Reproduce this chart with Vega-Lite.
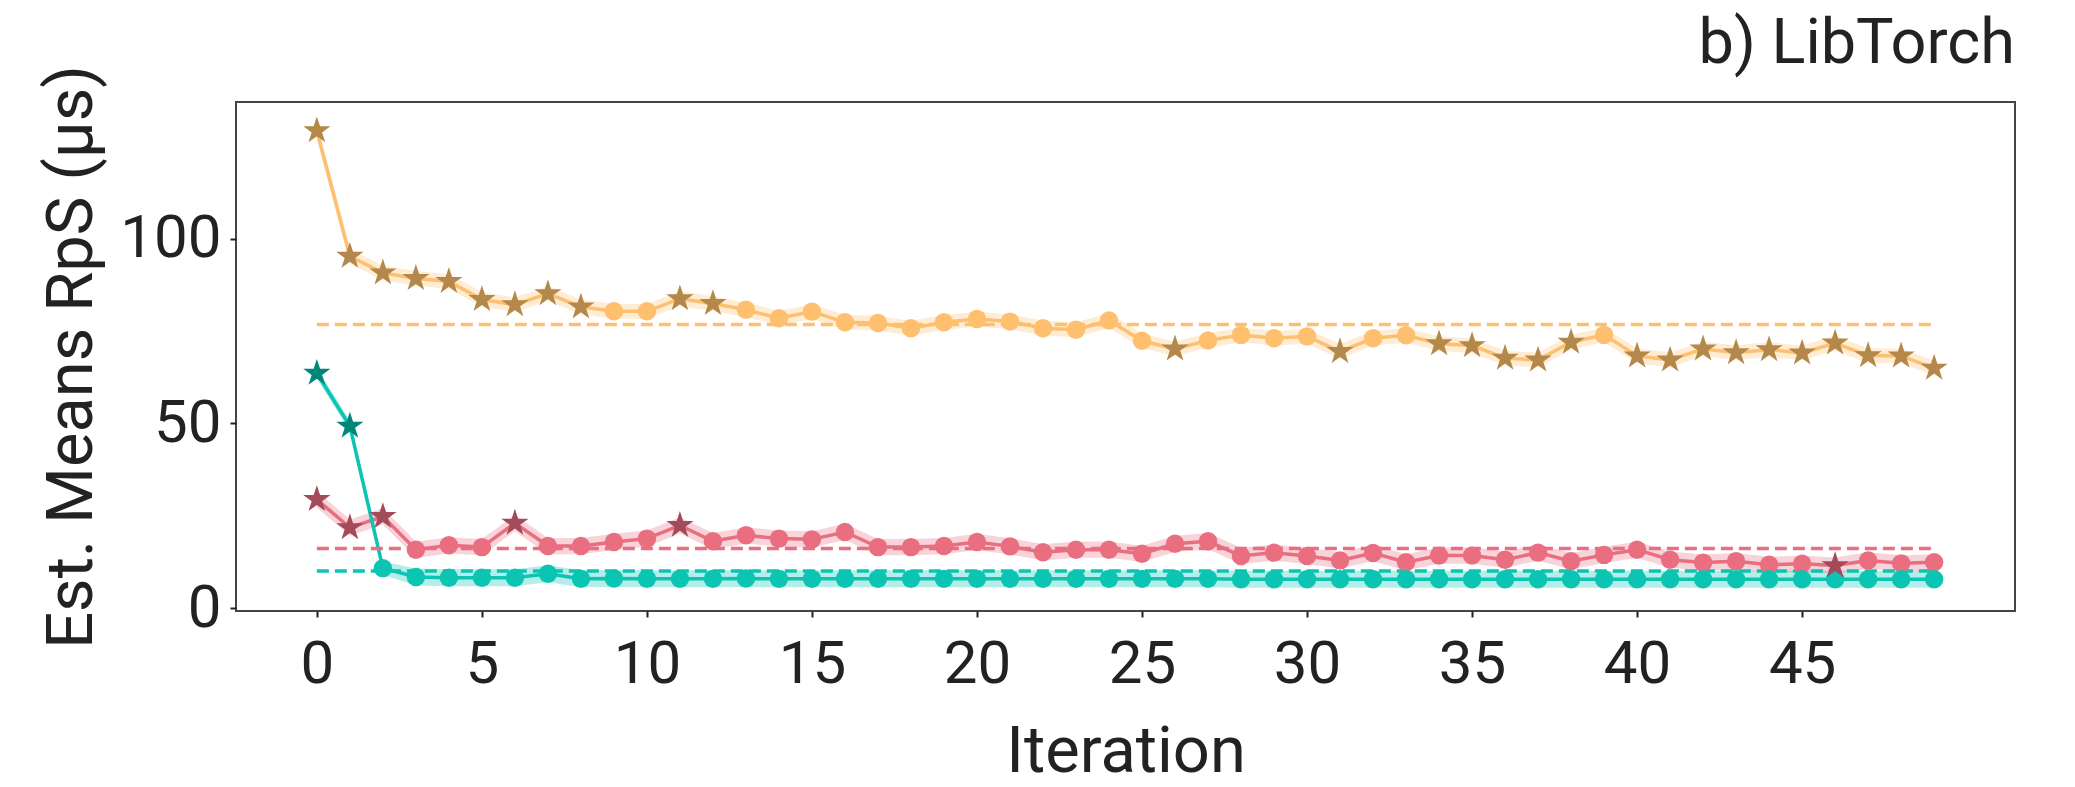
{
  "$schema": "https://vega.github.io/schema/vega-lite/v6.json",
  "width": 1779,
  "height": 509,
  "autosize": {"type": "none"},
  "padding": {"left": 236, "top": 102, "right": 60, "bottom": 176},
  "config": {
    "font": "Roboto",
    "view": {"stroke": "#444", "strokeWidth": 2},
    "axis": {"grid": false, "domain": false, "tickColor": "#222", "tickWidth": 2, "tickSize": 6, "labelColor": "#222", "titleColor": "#222", "labelFontSize": 60, "titleFontSize": 65, "titleFontWeight": "normal", "labelFont": "Roboto", "titleFont": "Roboto"}
  },
  "title": {"text": "b) LibTorch", "anchor": "end", "frame": "group", "fontSize": 63, "fontWeight": "normal", "color": "#222", "font": "Roboto", "baseline": "alphabetic", "offset": 7, "dy": 68},
  "datasets": {
    "series": [
      {"series": "Series 1", "iter": 0, "mean": 129.3, "lo": 127.0, "hi": 131.6, "star": true},
      {"series": "Series 1", "iter": 1, "mean": 95.3, "lo": 93.3, "hi": 97.3, "star": true},
      {"series": "Series 1", "iter": 2, "mean": 90.8, "lo": 88.8, "hi": 92.8, "star": true},
      {"series": "Series 1", "iter": 3, "mean": 89.3, "lo": 87.3, "hi": 91.3, "star": true},
      {"series": "Series 1", "iter": 4, "mean": 88.5, "lo": 86.5, "hi": 90.5, "star": true},
      {"series": "Series 1", "iter": 5, "mean": 83.6, "lo": 81.6, "hi": 85.6, "star": true},
      {"series": "Series 1", "iter": 6, "mean": 82.2, "lo": 80.2, "hi": 84.2, "star": true},
      {"series": "Series 1", "iter": 7, "mean": 85.2, "lo": 83.2, "hi": 87.2, "star": true},
      {"series": "Series 1", "iter": 8, "mean": 81.6, "lo": 79.6, "hi": 83.6, "star": true},
      {"series": "Series 1", "iter": 9, "mean": 80.4, "lo": 78.4, "hi": 82.4, "star": false},
      {"series": "Series 1", "iter": 10, "mean": 80.4, "lo": 78.4, "hi": 82.4, "star": false},
      {"series": "Series 1", "iter": 11, "mean": 83.8, "lo": 81.8, "hi": 85.8, "star": true},
      {"series": "Series 1", "iter": 12, "mean": 82.5, "lo": 80.5, "hi": 84.5, "star": true},
      {"series": "Series 1", "iter": 13, "mean": 80.8, "lo": 78.8, "hi": 82.8, "star": false},
      {"series": "Series 1", "iter": 14, "mean": 78.5, "lo": 76.5, "hi": 80.5, "star": false},
      {"series": "Series 1", "iter": 15, "mean": 80.3, "lo": 78.3, "hi": 82.3, "star": false},
      {"series": "Series 1", "iter": 16, "mean": 77.4, "lo": 75.4, "hi": 79.4, "star": false},
      {"series": "Series 1", "iter": 17, "mean": 77.2, "lo": 75.2, "hi": 79.2, "star": false},
      {"series": "Series 1", "iter": 18, "mean": 75.8, "lo": 73.8, "hi": 77.8, "star": false},
      {"series": "Series 1", "iter": 19, "mean": 77.4, "lo": 75.4, "hi": 79.4, "star": false},
      {"series": "Series 1", "iter": 20, "mean": 78.3, "lo": 76.3, "hi": 80.3, "star": false},
      {"series": "Series 1", "iter": 21, "mean": 77.6, "lo": 75.6, "hi": 79.6, "star": false},
      {"series": "Series 1", "iter": 22, "mean": 75.8, "lo": 73.8, "hi": 77.8, "star": false},
      {"series": "Series 1", "iter": 23, "mean": 75.4, "lo": 73.4, "hi": 77.4, "star": false},
      {"series": "Series 1", "iter": 24, "mean": 77.9, "lo": 75.9, "hi": 79.9, "star": false},
      {"series": "Series 1", "iter": 25, "mean": 72.4, "lo": 70.4, "hi": 74.4, "star": false},
      {"series": "Series 1", "iter": 26, "mean": 70.2, "lo": 68.2, "hi": 72.2, "star": true},
      {"series": "Series 1", "iter": 27, "mean": 72.5, "lo": 70.5, "hi": 74.5, "star": false},
      {"series": "Series 1", "iter": 28, "mean": 74.0, "lo": 72.0, "hi": 76.0, "star": false},
      {"series": "Series 1", "iter": 29, "mean": 73.1, "lo": 71.1, "hi": 75.1, "star": false},
      {"series": "Series 1", "iter": 30, "mean": 73.6, "lo": 71.6, "hi": 75.6, "star": false},
      {"series": "Series 1", "iter": 31, "mean": 69.5, "lo": 67.5, "hi": 71.5, "star": true},
      {"series": "Series 1", "iter": 32, "mean": 73.1, "lo": 71.1, "hi": 75.1, "star": false},
      {"series": "Series 1", "iter": 33, "mean": 73.9, "lo": 71.9, "hi": 75.9, "star": false},
      {"series": "Series 1", "iter": 34, "mean": 71.6, "lo": 69.6, "hi": 73.6, "star": true},
      {"series": "Series 1", "iter": 35, "mean": 71.1, "lo": 69.1, "hi": 73.1, "star": true},
      {"series": "Series 1", "iter": 36, "mean": 67.7, "lo": 65.7, "hi": 69.7, "star": true},
      {"series": "Series 1", "iter": 37, "mean": 67.2, "lo": 65.2, "hi": 69.2, "star": true},
      {"series": "Series 1", "iter": 38, "mean": 72.0, "lo": 70.0, "hi": 74.0, "star": true},
      {"series": "Series 1", "iter": 39, "mean": 74.0, "lo": 72.0, "hi": 76.0, "star": false},
      {"series": "Series 1", "iter": 40, "mean": 68.3, "lo": 66.3, "hi": 70.3, "star": true},
      {"series": "Series 1", "iter": 41, "mean": 67.2, "lo": 65.2, "hi": 69.2, "star": true},
      {"series": "Series 1", "iter": 42, "mean": 70.2, "lo": 68.2, "hi": 72.2, "star": true},
      {"series": "Series 1", "iter": 43, "mean": 69.2, "lo": 67.2, "hi": 71.2, "star": true},
      {"series": "Series 1", "iter": 44, "mean": 70.0, "lo": 68.0, "hi": 72.0, "star": true},
      {"series": "Series 1", "iter": 45, "mean": 69.1, "lo": 67.1, "hi": 71.1, "star": true},
      {"series": "Series 1", "iter": 46, "mean": 71.8, "lo": 69.8, "hi": 73.8, "star": true},
      {"series": "Series 1", "iter": 47, "mean": 68.4, "lo": 66.4, "hi": 70.4, "star": true},
      {"series": "Series 1", "iter": 48, "mean": 68.3, "lo": 66.3, "hi": 70.3, "star": true},
      {"series": "Series 1", "iter": 49, "mean": 65.0, "lo": 63.0, "hi": 67.0, "star": true},

      {"series": "Series 2", "iter": 0, "mean": 29.4, "lo": 27.2, "hi": 31.6, "star": true},
      {"series": "Series 2", "iter": 1, "mean": 21.8, "lo": 19.6, "hi": 24.0, "star": true},
      {"series": "Series 2", "iter": 2, "mean": 24.8, "lo": 22.6, "hi": 27.0, "star": true},
      {"series": "Series 2", "iter": 3, "mean": 15.8, "lo": 13.6, "hi": 18.0, "star": false},
      {"series": "Series 2", "iter": 4, "mean": 17.0, "lo": 14.8, "hi": 19.2, "star": false},
      {"series": "Series 2", "iter": 5, "mean": 16.5, "lo": 14.3, "hi": 18.7, "star": false},
      {"series": "Series 2", "iter": 6, "mean": 23.0, "lo": 20.8, "hi": 25.2, "star": true},
      {"series": "Series 2", "iter": 7, "mean": 16.8, "lo": 14.6, "hi": 19.0, "star": false},
      {"series": "Series 2", "iter": 8, "mean": 16.8, "lo": 14.6, "hi": 19.0, "star": false},
      {"series": "Series 2", "iter": 9, "mean": 17.9, "lo": 15.7, "hi": 20.1, "star": false},
      {"series": "Series 2", "iter": 10, "mean": 18.8, "lo": 16.6, "hi": 21.0, "star": false},
      {"series": "Series 2", "iter": 11, "mean": 22.4, "lo": 20.2, "hi": 24.6, "star": true},
      {"series": "Series 2", "iter": 12, "mean": 18.1, "lo": 15.9, "hi": 20.3, "star": false},
      {"series": "Series 2", "iter": 13, "mean": 19.7, "lo": 17.5, "hi": 21.9, "star": false},
      {"series": "Series 2", "iter": 14, "mean": 18.8, "lo": 16.6, "hi": 21.0, "star": false},
      {"series": "Series 2", "iter": 15, "mean": 18.6, "lo": 16.4, "hi": 20.8, "star": false},
      {"series": "Series 2", "iter": 16, "mean": 20.6, "lo": 18.4, "hi": 22.8, "star": false},
      {"series": "Series 2", "iter": 17, "mean": 16.5, "lo": 14.3, "hi": 18.7, "star": false},
      {"series": "Series 2", "iter": 18, "mean": 16.5, "lo": 14.3, "hi": 18.7, "star": false},
      {"series": "Series 2", "iter": 19, "mean": 16.8, "lo": 14.6, "hi": 19.0, "star": false},
      {"series": "Series 2", "iter": 20, "mean": 17.9, "lo": 15.7, "hi": 20.1, "star": false},
      {"series": "Series 2", "iter": 21, "mean": 16.7, "lo": 14.5, "hi": 18.9, "star": false},
      {"series": "Series 2", "iter": 22, "mean": 15.1, "lo": 12.9, "hi": 17.3, "star": false},
      {"series": "Series 2", "iter": 23, "mean": 15.8, "lo": 13.6, "hi": 18.0, "star": false},
      {"series": "Series 2", "iter": 24, "mean": 15.8, "lo": 13.6, "hi": 18.0, "star": false},
      {"series": "Series 2", "iter": 25, "mean": 14.7, "lo": 12.5, "hi": 16.9, "star": false},
      {"series": "Series 2", "iter": 26, "mean": 17.4, "lo": 15.2, "hi": 19.6, "star": false},
      {"series": "Series 2", "iter": 27, "mean": 18.1, "lo": 15.9, "hi": 20.3, "star": false},
      {"series": "Series 2", "iter": 28, "mean": 14.1, "lo": 11.9, "hi": 16.3, "star": false},
      {"series": "Series 2", "iter": 29, "mean": 15.0, "lo": 12.8, "hi": 17.2, "star": false},
      {"series": "Series 2", "iter": 30, "mean": 14.1, "lo": 11.9, "hi": 16.3, "star": false},
      {"series": "Series 2", "iter": 31, "mean": 12.9, "lo": 10.7, "hi": 15.1, "star": false},
      {"series": "Series 2", "iter": 32, "mean": 14.9, "lo": 12.7, "hi": 17.1, "star": false},
      {"series": "Series 2", "iter": 33, "mean": 12.4, "lo": 10.2, "hi": 14.6, "star": false},
      {"series": "Series 2", "iter": 34, "mean": 14.2, "lo": 12.0, "hi": 16.4, "star": false},
      {"series": "Series 2", "iter": 35, "mean": 14.2, "lo": 12.0, "hi": 16.4, "star": false},
      {"series": "Series 2", "iter": 36, "mean": 13.1, "lo": 10.9, "hi": 15.3, "star": false},
      {"series": "Series 2", "iter": 37, "mean": 15.0, "lo": 12.8, "hi": 17.2, "star": false},
      {"series": "Series 2", "iter": 38, "mean": 12.7, "lo": 10.5, "hi": 14.9, "star": false},
      {"series": "Series 2", "iter": 39, "mean": 14.4, "lo": 12.2, "hi": 16.6, "star": false},
      {"series": "Series 2", "iter": 40, "mean": 15.8, "lo": 13.6, "hi": 18.0, "star": false},
      {"series": "Series 2", "iter": 41, "mean": 13.1, "lo": 10.9, "hi": 15.3, "star": false},
      {"series": "Series 2", "iter": 42, "mean": 12.3, "lo": 10.1, "hi": 14.5, "star": false},
      {"series": "Series 2", "iter": 43, "mean": 12.7, "lo": 10.5, "hi": 14.9, "star": false},
      {"series": "Series 2", "iter": 44, "mean": 11.7, "lo": 9.5, "hi": 13.9, "star": false},
      {"series": "Series 2", "iter": 45, "mean": 12.0, "lo": 9.8, "hi": 14.2, "star": false},
      {"series": "Series 2", "iter": 46, "mean": 11.5, "lo": 9.3, "hi": 13.7, "star": true},
      {"series": "Series 2", "iter": 47, "mean": 12.9, "lo": 10.7, "hi": 15.1, "star": false},
      {"series": "Series 2", "iter": 48, "mean": 12.1, "lo": 9.9, "hi": 14.3, "star": false},
      {"series": "Series 2", "iter": 49, "mean": 12.4, "lo": 10.2, "hi": 14.6, "star": false},

      {"series": "Series 3", "iter": 0, "mean": 63.6, "lo": 62.1, "hi": 65.1, "star": true},
      {"series": "Series 3", "iter": 1, "mean": 49.3, "lo": 47.8, "hi": 50.8, "star": true},
      {"series": "Series 3", "iter": 2, "mean": 10.8, "lo": 9.0, "hi": 12.6, "star": false},
      {"series": "Series 3", "iter": 3, "mean": 8.4, "lo": 6.1, "hi": 10.7, "star": false},
      {"series": "Series 3", "iter": 4, "mean": 8.2, "lo": 5.9, "hi": 10.5, "star": false},
      {"series": "Series 3", "iter": 5, "mean": 8.2, "lo": 5.9, "hi": 10.5, "star": false},
      {"series": "Series 3", "iter": 6, "mean": 8.2, "lo": 5.9, "hi": 10.5, "star": false},
      {"series": "Series 3", "iter": 7, "mean": 9.3, "lo": 7.0, "hi": 11.6, "star": false},
      {"series": "Series 3", "iter": 8, "mean": 7.9, "lo": 5.6, "hi": 10.2, "star": false},
      {"series": "Series 3", "iter": 9, "mean": 8.0, "lo": 5.7, "hi": 10.3, "star": false},
      {"series": "Series 3", "iter": 10, "mean": 7.9, "lo": 5.6, "hi": 10.2, "star": false},
      {"series": "Series 3", "iter": 11, "mean": 7.9, "lo": 5.6, "hi": 10.2, "star": false},
      {"series": "Series 3", "iter": 12, "mean": 7.9, "lo": 5.6, "hi": 10.2, "star": false},
      {"series": "Series 3", "iter": 13, "mean": 8.0, "lo": 5.7, "hi": 10.3, "star": false},
      {"series": "Series 3", "iter": 14, "mean": 7.9, "lo": 5.6, "hi": 10.2, "star": false},
      {"series": "Series 3", "iter": 15, "mean": 7.9, "lo": 5.6, "hi": 10.2, "star": false},
      {"series": "Series 3", "iter": 16, "mean": 7.9, "lo": 5.6, "hi": 10.2, "star": false},
      {"series": "Series 3", "iter": 17, "mean": 7.9, "lo": 5.6, "hi": 10.2, "star": false},
      {"series": "Series 3", "iter": 18, "mean": 7.9, "lo": 5.6, "hi": 10.2, "star": false},
      {"series": "Series 3", "iter": 19, "mean": 7.9, "lo": 5.6, "hi": 10.2, "star": false},
      {"series": "Series 3", "iter": 20, "mean": 7.9, "lo": 5.6, "hi": 10.2, "star": false},
      {"series": "Series 3", "iter": 21, "mean": 7.9, "lo": 5.6, "hi": 10.2, "star": false},
      {"series": "Series 3", "iter": 22, "mean": 7.9, "lo": 5.6, "hi": 10.2, "star": false},
      {"series": "Series 3", "iter": 23, "mean": 7.9, "lo": 5.6, "hi": 10.2, "star": false},
      {"series": "Series 3", "iter": 24, "mean": 7.9, "lo": 5.6, "hi": 10.2, "star": false},
      {"series": "Series 3", "iter": 25, "mean": 7.9, "lo": 5.6, "hi": 10.2, "star": false},
      {"series": "Series 3", "iter": 26, "mean": 7.9, "lo": 5.6, "hi": 10.2, "star": false},
      {"series": "Series 3", "iter": 27, "mean": 7.9, "lo": 5.6, "hi": 10.2, "star": false},
      {"series": "Series 3", "iter": 28, "mean": 7.8, "lo": 5.5, "hi": 10.1, "star": false},
      {"series": "Series 3", "iter": 29, "mean": 7.8, "lo": 5.5, "hi": 10.1, "star": false},
      {"series": "Series 3", "iter": 30, "mean": 7.8, "lo": 5.5, "hi": 10.1, "star": false},
      {"series": "Series 3", "iter": 31, "mean": 7.8, "lo": 5.5, "hi": 10.1, "star": false},
      {"series": "Series 3", "iter": 32, "mean": 7.8, "lo": 5.5, "hi": 10.1, "star": false},
      {"series": "Series 3", "iter": 33, "mean": 7.8, "lo": 5.5, "hi": 10.1, "star": false},
      {"series": "Series 3", "iter": 34, "mean": 7.8, "lo": 5.5, "hi": 10.1, "star": false},
      {"series": "Series 3", "iter": 35, "mean": 7.8, "lo": 5.5, "hi": 10.1, "star": false},
      {"series": "Series 3", "iter": 36, "mean": 7.8, "lo": 5.5, "hi": 10.1, "star": false},
      {"series": "Series 3", "iter": 37, "mean": 7.8, "lo": 5.5, "hi": 10.1, "star": false},
      {"series": "Series 3", "iter": 38, "mean": 7.8, "lo": 5.5, "hi": 10.1, "star": false},
      {"series": "Series 3", "iter": 39, "mean": 7.8, "lo": 5.5, "hi": 10.1, "star": false},
      {"series": "Series 3", "iter": 40, "mean": 7.8, "lo": 5.5, "hi": 10.1, "star": false},
      {"series": "Series 3", "iter": 41, "mean": 7.8, "lo": 5.5, "hi": 10.1, "star": false},
      {"series": "Series 3", "iter": 42, "mean": 7.8, "lo": 5.5, "hi": 10.1, "star": false},
      {"series": "Series 3", "iter": 43, "mean": 7.8, "lo": 5.5, "hi": 10.1, "star": false},
      {"series": "Series 3", "iter": 44, "mean": 7.8, "lo": 5.5, "hi": 10.1, "star": false},
      {"series": "Series 3", "iter": 45, "mean": 7.8, "lo": 5.5, "hi": 10.1, "star": false},
      {"series": "Series 3", "iter": 46, "mean": 7.8, "lo": 5.5, "hi": 10.1, "star": false},
      {"series": "Series 3", "iter": 47, "mean": 7.8, "lo": 5.5, "hi": 10.1, "star": false},
      {"series": "Series 3", "iter": 48, "mean": 7.8, "lo": 5.5, "hi": 10.1, "star": false},
      {"series": "Series 3", "iter": 49, "mean": 7.8, "lo": 5.5, "hi": 10.1, "star": false}
    ],
    "baselines": [
      {"series": "Series 1", "level": 76.8, "start": 0, "end": 49},
      {"series": "Series 2", "level": 16.1, "start": 0, "end": 49},
      {"series": "Series 3", "level": 10.0, "start": 0, "end": 49}
    ]
  },
  "layer": [
    {
      "data": {"name": "series"},
      "mark": {"type": "area", "opacity": 0.3},
      "encoding": {
        "x": {"field": "iter", "type": "quantitative", "scale": {"domain": [-2.45, 51.45], "nice": false, "zero": false},
              "axis": {"values": [0,5,10,15,20,25,30,35,40,45], "labelPadding": 18, "title": "Iteration", "titlePadding": 26}},
        "y": {"field": "lo", "type": "quantitative", "scale": {"domain": [-0.81, 137.1], "nice": false, "zero": false},
              "axis": {"values": [0,50,100], "labelPadding": 9, "title": "Est. Means RpS (μs)", "titlePadding": 14}},
        "y2": {"field": "hi"},
        "color": {"field": "series", "type": "nominal", "legend": null,
                  "scale": {"domain": ["Series 1", "Series 2", "Series 3"], "range": ["#FEBF6F", "#E86E80", "#0BC4B2"]}}
      }
    },
    {
      "data": {"name": "series"},
      "mark": {"type": "line", "strokeWidth": 3.5},
      "encoding": {
        "x": {"field": "iter", "type": "quantitative"},
        "y": {"field": "mean", "type": "quantitative"},
        "color": {"field": "series", "type": "nominal", "legend": null,
                  "scale": {"domain": ["Series 1", "Series 2", "Series 3"], "range": ["#FEBF6F", "#E86E80", "#0BC4B2"]}}
      }
    },
    {
      "data": {"name": "baselines"},
      "mark": {"type": "rule", "strokeWidth": 3.5, "strokeDash": [12, 6]},
      "encoding": {
        "x": {"field": "start", "type": "quantitative"},
        "x2": {"field": "end"},
        "y": {"field": "level", "type": "quantitative"},
        "color": {"field": "series", "type": "nominal", "legend": null,
                  "scale": {"domain": ["Series 1", "Series 2", "Series 3"], "range": ["#FEBF6F", "#E86E80", "#0BC4B2"]}}
      }
    },
    {
      "data": {"name": "series"},
      "transform": [{"filter": "!datum.star"}],
      "mark": {"type": "point", "shape": "circle", "filled": true, "opacity": 1, "size": 340},
      "encoding": {
        "x": {"field": "iter", "type": "quantitative"},
        "y": {"field": "mean", "type": "quantitative"},
        "color": {"field": "series", "type": "nominal", "legend": null,
                  "scale": {"domain": ["Series 1", "Series 2", "Series 3"], "range": ["#FEBF6F", "#E86E80", "#0BC4B2"]}}
      }
    },
    {
      "data": {"name": "series"},
      "transform": [{"filter": "datum.star"}],
      "mark": {"type": "point", "filled": true, "opacity": 1, "size": 820,
               "shape": "M0,-1L0.2245,-0.309L0.9511,-0.309L0.3633,0.118L0.5878,0.809L0,0.382L-0.5878,0.809L-0.3633,0.118L-0.9511,-0.309L-0.2245,-0.309Z"},
      "encoding": {
        "x": {"field": "iter", "type": "quantitative"},
        "y": {"field": "mean", "type": "quantitative"},
        "color": {"field": "series", "type": "nominal", "legend": null,
                  "scale": {"domain": ["Series 1", "Series 2", "Series 3"], "range": ["#B3884A", "#A34A5B", "#00877A"]}}
      }
    }
  ],
  "resolve": {"scale": {"color": "independent"}}
}
